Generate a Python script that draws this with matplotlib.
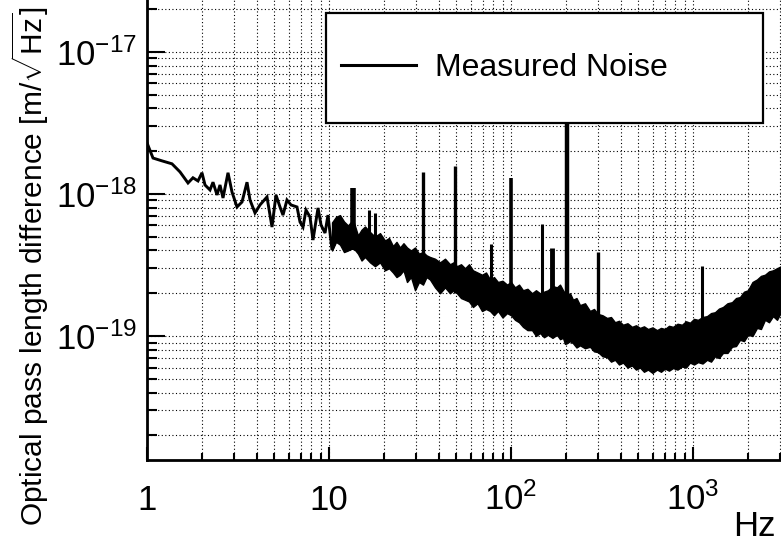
import matplotlib
matplotlib.use("Agg")
import matplotlib.pyplot as plt
from matplotlib.patches import Rectangle
from matplotlib.lines import Line2D
from matplotlib.ticker import FixedLocator, FixedFormatter, LogLocator, NullFormatter

plt.rcParams['font.family'] = ['Liberation Sans', 'DejaVu Sans']
plt.rcParams['mathtext.fontset'] = 'custom'
plt.rcParams['mathtext.rm'] = 'Liberation Sans'
plt.rcParams['mathtext.it'] = 'Liberation Sans:italic'
plt.rcParams['mathtext.bf'] = 'Liberation Sans:bold'

# ---------------- data ----------------
# low-frequency part of the measured spectrum [Hz], [m/sqrt(Hz)]
low_freq = [1.00, 1.079, 1.209, 1.372, 1.518, 1.680, 1.789, 1.906, 2.005, 2.083,
            2.219, 2.305, 2.425, 2.518, 2.616, 2.787, 2.931, 3.122, 3.327, 3.544,
            3.681, 3.921, 4.177, 4.563, 4.862, 5.114, 5.379, 5.588, 5.876, 6.183,
            6.671, 6.93, 7.197, 7.475, 7.864, 8.168, 8.703, 9.04, 9.51, 9.87,
            10.39, 10.93, 11.49, 11.94, 12.56]
low_amp = [2.29e-18, 1.79e-18, 1.71e-18, 1.63e-18, 1.43e-18, 1.195e-18, 1.30e-18, 1.235e-18, 1.41e-18, 1.157e-18,
           1.067e-18, 1.21e-18, 9.84e-19, 1.157e-18, 9.37e-19, 1.41e-18, 1.033e-18, 8.1e-19, 8.78e-19, 1.21e-18,
           9.07e-19, 7.35e-19, 8.37e-19, 9.53e-19, 5.85e-19, 9.84e-19, 8.1e-19, 7.1e-19, 9.07e-19, 8.37e-19,
           8.1e-19, 6.35e-19, 5.85e-19, 7.7e-19, 6.89e-19, 4.74e-19, 7.97e-19, 6.05e-19, 5.31e-19, 7.1e-19,
           4.03e-19, 4.74e-19, 6.78e-19, 5.6e-19, 4.23e-19]

# dense noise band above ~10 Hz: frequency, upper and lower envelope
band_freq = [10.39, 10.93, 11.49, 12.09, 12.72, 13.55, 14.43, 15.09, 15.77, 16.8,
             17.89, 19.06, 20.31, 21.36, 22.47, 23.49, 24.55, 25.66, 26.83, 28.22,
             29.69, 31.23, 32.85, 34.33, 35.88, 38.23, 40.73, 43.39, 46.22, 48.31,
             50.5, 53.13, 55.9, 58.78, 61.8, 65.44, 69.3, 72.9, 76.7, 80.65,
             84.8, 89.8, 95.1, 100.0, 105.2, 110.7, 116.4, 123.2, 130.5, 137.2,
             144.3, 151.8, 159.7, 169.0, 178.9, 185.9, 193.1, 198.0, 203.1, 211.0,
             219.1, 229.0, 239.4, 255.0, 271.7, 285.8, 300.6, 318.2, 336.9, 354.4,
             372.8, 392.1, 412.5, 436.6, 462.2, 486.2, 511.4, 537.9, 565.7, 599.0,
             634.2, 667.0, 701.7, 738.0, 776.5, 822.0, 870.0, 915.0, 962.7, 1013.0,
             1065.0, 1128.0, 1194.0, 1256.0, 1321.0, 1389.0, 1461.0, 1547.0, 1638.0, 1723.0,
             1812.0, 1906.0, 2005.0, 2123.0, 2247.0, 2363.0, 2486.0, 2616.0, 2752.0, 2895.0,
             3045.0]
band_hi = [6.3e-19, 6.9e-19, 7.1e-19, 6.4e-19, 6.0e-19, 6.6e-19, 5.1e-19, 5.6e-19, 5.9e-19, 5.4e-19,
           5.0e-19, 5.3e-19, 4.7e-19, 4.9e-19, 4.3e-19, 4.6e-19, 4.2e-19, 4.5e-19, 4.2e-19, 4.0e-19,
           4.2e-19, 3.8e-19, 3.9e-19, 3.7e-19, 3.6e-19, 3.5e-19, 3.3e-19, 3.5e-19, 3.2e-19, 3.3e-19,
           3.1e-19, 3.2e-19, 3.0e-19, 3.2e-19, 2.9e-19, 2.8e-19, 2.7e-19, 2.8e-19, 2.5e-19, 2.6e-19,
           2.4e-19, 2.45e-19, 2.3e-19, 2.4e-19, 2.2e-19, 2.3e-19, 2.1e-19, 2.15e-19, 2.0e-19, 2.1e-19,
           2.0e-19, 2.05e-19, 2.1e-19, 2.25e-19, 2.2e-19, 2.3e-19, 2.1e-19, 2.0e-19, 1.95e-19, 2.0e-19,
           1.8e-19, 1.85e-19, 1.65e-19, 1.7e-19, 1.5e-19, 1.55e-19, 1.43e-19, 1.4e-19, 1.34e-19, 1.36e-19,
           1.25e-19, 1.28e-19, 1.2e-19, 1.23e-19, 1.16e-19, 1.19e-19, 1.14e-19, 1.17e-19, 1.12e-19, 1.15e-19,
           1.1e-19, 1.14e-19, 1.12e-19, 1.18e-19, 1.16e-19, 1.22e-19, 1.2e-19, 1.27e-19, 1.24e-19, 1.32e-19,
           1.3e-19, 1.36e-19, 1.38e-19, 1.45e-19, 1.47e-19, 1.56e-19, 1.6e-19, 1.7e-19, 1.73e-19, 1.85e-19,
           1.88e-19, 2.05e-19, 2.1e-19, 2.4e-19, 2.5e-19, 2.65e-19, 2.7e-19, 2.85e-19, 2.9e-19, 3.0e-19,
           3.1e-19]
band_lo = [4.0e-19, 4.6e-19, 4.4e-19, 3.9e-19, 4.0e-19, 4.2e-19, 3.8e-19, 3.4e-19, 3.6e-19, 3.3e-19,
           3.1e-19, 3.3e-19, 2.9e-19, 3.0e-19, 2.8e-19, 2.6e-19, 2.7e-19, 2.9e-19, 2.4e-19, 2.6e-19,
           2.1e-19, 2.4e-19, 2.3e-19, 2.6e-19, 2.5e-19, 2.2e-19, 2.0e-19, 2.2e-19, 2.0e-19, 2.1e-19,
           2.0e-19, 1.85e-19, 1.8e-19, 1.75e-19, 1.6e-19, 1.7e-19, 1.5e-19, 1.55e-19, 1.5e-19, 1.4e-19,
           1.5e-19, 1.35e-19, 1.45e-19, 1.4e-19, 1.3e-19, 1.25e-19, 1.16e-19, 1.1e-19, 1.1e-19, 1.0e-19,
           1.05e-19, 9.8e-20, 1.02e-19, 9.7e-20, 1.02e-19, 9.5e-20, 9.7e-20, 8.8e-20, 8.9e-20, 9.2e-20,
           8.9e-20, 8.3e-20, 8.6e-20, 8.2e-20, 8.4e-20, 7.8e-20, 7.7e-20, 7.2e-20, 7.1e-20, 6.6e-20,
           6.8e-20, 6.3e-20, 6.5e-20, 6.0e-20, 6.2e-20, 5.8e-20, 6.0e-20, 5.6e-20, 5.8e-20, 5.5e-20,
           5.8e-20, 5.6e-20, 5.9e-20, 5.7e-20, 5.95e-20, 5.8e-20, 6.1e-20, 6.0e-20, 6.5e-20, 6.3e-20,
           6.55e-20, 6.4e-20, 6.8e-20, 6.6e-20, 7.2e-20, 7.0e-20, 7.6e-20, 7.6e-20, 8.4e-20, 8.5e-20,
           9.4e-20, 9.2e-20, 1.02e-19, 1.0e-19, 1.14e-19, 1.12e-19, 1.3e-19, 1.25e-19, 1.38e-19, 1.3e-19,
           1.47e-19]

# narrow lines (spikes): frequency, base and top value
spike_freq = [13.5, 16.6, 17.9, 32.8, 49.5, 77.6, 100.0, 148.0, 168.0, 203.0, 301.0, 1120.0]
spike_base = [4.0e-19, 4.0e-19, 4.0e-19, 2.5e-19, 2.0e-19, 1.6e-19, 1.5e-19, 1.1e-19, 1.1e-19, 1.0e-19, 8.0e-20, 6.5e-20]
spike_top = [1.1e-18, 7.7e-19, 7.3e-19, 1.43e-18, 1.57e-18, 4.45e-19, 1.30e-18, 6.15e-19, 4.17e-19, 6.0e-18, 3.9e-19, 3.1e-19]

x_ticks = [1, 10, 100, 1000]
x_tick_labels = ['1', '10', r'$10^{2}$', r'$10^{3}$']
y_ticks = [1e-19, 1e-18, 1e-17]
y_tick_labels = [r'$10^{-19}$', r'$10^{-18}$', r'$10^{-17}$']

series_label = 'Measured Noise'
x_label = 'Hz'
y_label = r'Optical pass length difference [m/$\sqrt{\mathrm{Hz}}$]'

# ---------------- figure ----------------
W, H = 781, 545
fig = plt.figure(figsize=(W / 100, H / 100), dpi=100)
ax = fig.add_axes([147 / W, (H - 460) / H, (W - 147) / W, 460 / H])
ax.set_xscale('log')
ax.set_yscale('log')
ax.set_xlim(1, 3045)
ax.set_ylim(1.34e-20, 2.32e-17)

lw_trace = 2.1
ax.plot(low_freq, low_amp, color='black', lw=lw_trace, solid_joinstyle='miter', zorder=3)
ax.fill_between(band_freq, band_lo, band_hi, color='black', lw=1.0, zorder=3)
spike_widths = [4.0, 2.2, 2.2, 2.4, 2.4, 2.2, 2.6, 2.2, 3.5, 3.2, 2.4, 2.2]
for f, b, t, w in zip(spike_freq, spike_base, spike_top, spike_widths):
    ax.plot([f, f], [b, t], color='black', lw=w, solid_capstyle='butt', zorder=3)

# axes cosmetics (ROOT-like)
for s in ['top', 'right']:
    ax.spines[s].set_visible(False)
for s in ['left', 'bottom']:
    ax.spines[s].set_linewidth(2.0)
    ax.spines[s].set_zorder(6)

ax.xaxis.set_major_locator(FixedLocator(x_ticks))
ax.xaxis.set_major_formatter(FixedFormatter(x_tick_labels))
ax.xaxis.set_minor_locator(LogLocator(base=10, subs=range(2, 10), numticks=20))
ax.xaxis.set_minor_formatter(NullFormatter())
ax.yaxis.set_major_locator(FixedLocator(y_ticks))
ax.yaxis.set_major_formatter(FixedFormatter(y_tick_labels))
ax.yaxis.set_minor_locator(LogLocator(base=10, subs=range(2, 10), numticks=20))
ax.yaxis.set_minor_formatter(NullFormatter())

ax.tick_params(axis='both', which='both', direction='in', width=1.5, color='black')
ax.tick_params(axis='y', which='major', length=13, pad=7, labelsize=25)
ax.tick_params(axis='y', which='minor', length=7)
ax.tick_params(axis='x', which='major', length=9.5, pad=36, labelsize=25)
ax.tick_params(axis='x', which='minor', length=5)
for lab in ax.get_xticklabels():
    lab.set_verticalalignment('baseline')

ax.grid(True, which='both', color='black', lw=0.8, linestyle=(0, (1, 2.2)), zorder=0)
ax.set_axisbelow(True)

# legend box
rect = Rectangle((326 / W, (H - 123) / H), 437 / W, 110 / H, transform=fig.transFigure,
                 facecolor='white', edgecolor='black', lw=1.6, zorder=10)
fig.patches.append(rect)
handle = Line2D([], [], color='black', lw=2.2)
leg = fig.legend([handle], [series_label], loc='center left',
                 bbox_to_anchor=(341 / W, 1 - 68 / H), frameon=False, fontsize=23,
                 handlelength=2.35, handletextpad=0.6, borderaxespad=0, borderpad=0)
leg.set_zorder(11)

fig.text(776 / W, 2 / H, x_label, ha='right', va='bottom', fontsize=25)
fig.text(30 / W, 1 - 266 / H, y_label, rotation=90, ha='center', va='center', fontsize=21.5)

fig.savefig('out.png', dpi=100)
